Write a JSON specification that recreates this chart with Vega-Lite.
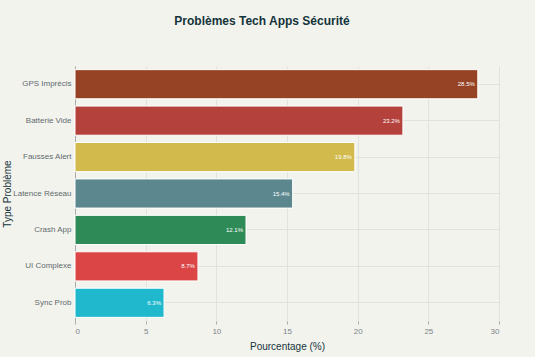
{
  "$schema": "https://vega.github.io/schema/vega-lite/v6.json",
  "width": 424,
  "height": 255,
  "autosize": {"type": "none"},
  "padding": {"left": 75, "top": 66, "right": 36, "bottom": 36},
  "background": "#F3F3EE",
  "title": {"text": "Problèmes Tech Apps Sécurité", "font": "Liberation Sans", "fontSize": 12, "fontWeight": "bold", "color": "#13343B", "offset": 38, "anchor": "middle", "dx": -25},
  "config": {"view": {"stroke": null}, "font": "Liberation Sans"},
  "data": {"values": [
    {"type": "GPS Imprécis", "pct": 28.5, "color": "#964325"},
    {"type": "Batterie Vide", "pct": 23.2, "color": "#B4413C"},
    {"type": "Fausses Alert", "pct": 19.8, "color": "#D2BA4C"},
    {"type": "Latence Réseau", "pct": 15.4, "color": "#5D878F"},
    {"type": "Crash App", "pct": 12.1, "color": "#2E8B57"},
    {"type": "UI Complexe", "pct": 8.7, "color": "#DB4545"},
    {"type": "Sync Prob", "pct": 6.3, "color": "#1FB8CD"}
  ]},
  "transform": [{"calculate": "format(datum.pct, '.1f') + '%'", "as": "label"}],
  "encoding": {
    "y": {"field": "type", "type": "nominal", "sort": null,
      "scale": {"paddingInner": 0.2, "paddingOuter": 0.1},
      "axis": {"title": "Type Problème", "titleFontSize": 10, "titleFontWeight": 400, "titleColor": "#13343B", "titleX": -63, "titleY": 127.5, "titleAlign": "center", "titleBaseline": "bottom",
        "labelFontSize": 8, "labelColor": "#5F6B6D", "ticks": false, "labelPadding": 4,
        "domain": true, "domainColor": "#AAAAAA", "grid": true, "gridColor": "#E2E2DC", "gridWidth": 1}},
    "x": {"field": "pct", "type": "quantitative",
      "scale": {"domain": [0, 30], "nice": false},
      "axis": {"title": "Pourcentage (%)", "titleFontSize": 10, "titleFontWeight": 400, "titleColor": "#13343B", "titlePadding": 6,
        "labelFontSize": 8, "labelColor": "#7A8487", "values": [0, 5, 10, 15, 20, 25, 30], "domain": false,
        "ticks": true, "tickColor": "#AAAAAA", "tickSize": 3, "labelPadding": 3,
        "grid": true, "gridColor": "#E2E2DC"}}
  },
  "layer": [
    {"mark": {"type": "bar", "stroke": "#FFFFFF", "strokeWidth": 1},
      "encoding": {"color": {"field": "color", "type": "nominal", "scale": null}}},
    {"mark": {"type": "text", "align": "right", "dx": -3, "fontSize": 6, "color": "#FFFFFF"},
      "encoding": {"text": {"field": "label", "type": "nominal"}}}
  ]
}
